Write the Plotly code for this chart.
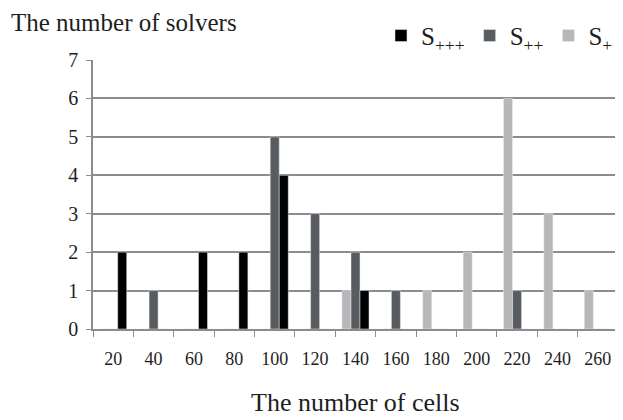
import plotly.graph_objects as go

cells = ["20", "40", "60", "80", "100", "120", "140", "160", "180", "200", "220", "240", "260"]
s_ppp = [2, 0, 2, 2, 4, 0, 1, 0, 0, 0, 0, 0, 0]
s_pp = [0, 1, 0, 0, 5, 3, 2, 1, 0, 0, 1, 0, 0]
s_p = [0, 0, 0, 0, 0, 0, 1, 0, 1, 2, 6, 3, 1]

serif = "Liberation Serif"
grid = "#8c8c8c"
txt = "#1e1e1e"

# the page body has an 8px margin, so the figure is sized to fit 623x420 from (8,8)
W, H = 615, 412
fig = go.Figure()
fig.add_trace(go.Bar(x=cells, y=s_p, name="S<sub>+</sub>", marker_color="#b6b7b8"))
fig.add_trace(go.Bar(x=cells, y=s_pp, name="S<sub>++</sub>", marker_color="#595c5f"))
fig.add_trace(go.Bar(x=cells, y=s_ppp, name="S<sub>+++</sub>", marker_color="#000000"))

fig.update_layout(
    width=W, height=H,
    margin=dict(l=85, r=5, t=52, b=91),
    paper_bgcolor="white", plot_bgcolor="white",
    barmode="group", bargap=0.33, bargroupgap=0,
    font=dict(family=serif, color=txt),
    title=dict(text="The number of solvers", x=3 / W, xanchor="left",
               y=1 - 14 / H, yanchor="middle", font=dict(size=25, family=serif, color=txt)),
    legend=dict(orientation="h", traceorder="reversed", x=1.0, xanchor="right",
                y=1.09, yanchor="middle", font=dict(size=25, family=serif, color=txt),
                bgcolor="rgba(0,0,0,0)", itemwidth=30),
    xaxis=dict(type="category", tickson="boundaries", ticks="outside", ticklen=6,
               tickcolor=grid, showline=True, linecolor=grid, linewidth=1.5,
               tickfont=dict(size=18, family=serif, color=txt),
               ticklabelstandoff=13, showgrid=False),
    yaxis=dict(range=[0, 7], dtick=1, ticks="outside", ticklen=5, tickcolor=grid,
               showline=True, linecolor=grid, linewidth=1.5, showgrid=True,
               gridcolor=grid, gridwidth=1.5, zeroline=False, ticklabelstandoff=4,
               tickfont=dict(size=20, family=serif, color=txt)),
    annotations=[dict(text="The number of cells", xref="paper", yref="paper",
                      x=0.5, y=-0.275, xanchor="center", yanchor="middle", showarrow=False,
                      font=dict(size=26, family=serif, color=txt))],
)

fig.write_html("out.html")
